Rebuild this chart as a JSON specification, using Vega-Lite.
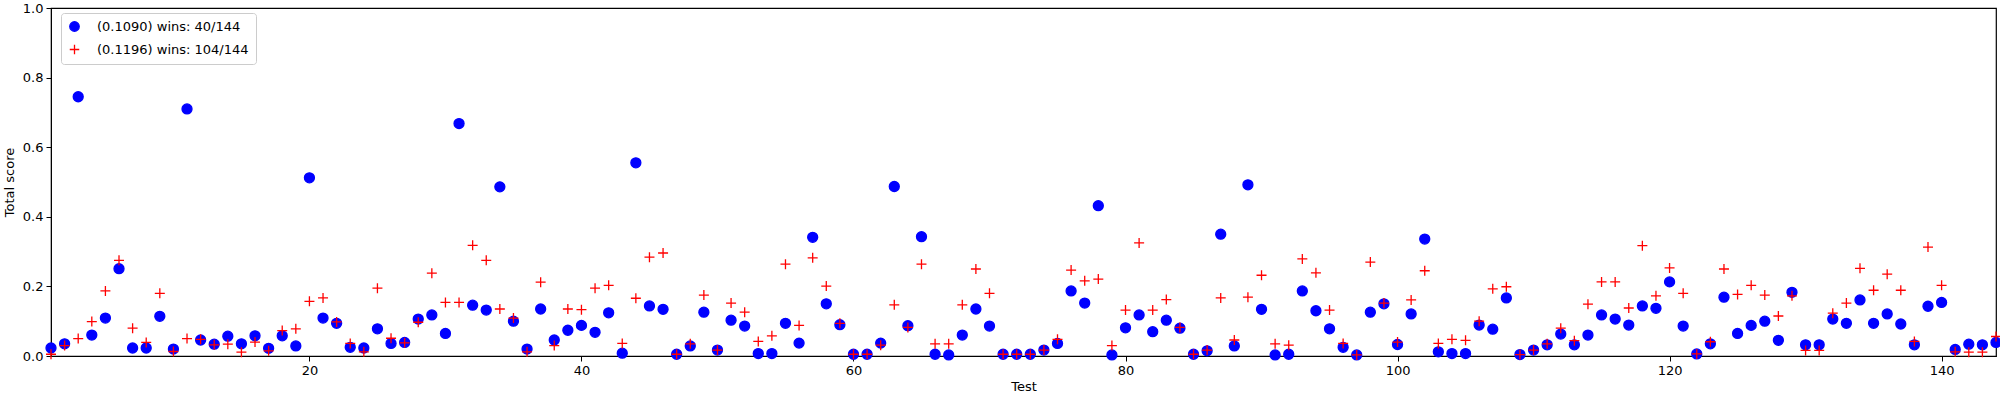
{
  "$schema": "https://vega.github.io/schema/vega-lite/v6.json",
  "autosize": "none",
  "width": 1945,
  "height": 348,
  "padding": {"left": 51, "top": 8, "right": 4, "bottom": 44},
  "background": "white",
  "data": {
    "values": [
      {"test": 1, "a": 0.023, "b": 0.005}, {"test": 2, "a": 0.035, "b": 0.03}, {"test": 3, "a": 0.745, "b": 0.05},
      {"test": 4, "a": 0.06, "b": 0.099}, {"test": 5, "a": 0.109, "b": 0.187}, {"test": 6, "a": 0.251, "b": 0.275},
      {"test": 7, "a": 0.023, "b": 0.08}, {"test": 8, "a": 0.023, "b": 0.039}, {"test": 9, "a": 0.114, "b": 0.18},
      {"test": 10, "a": 0.02, "b": 0.013}, {"test": 11, "a": 0.71, "b": 0.05}, {"test": 12, "a": 0.046, "b": 0.048},
      {"test": 13, "a": 0.034, "b": 0.032}, {"test": 14, "a": 0.057, "b": 0.034}, {"test": 15, "a": 0.035, "b": 0.011},
      {"test": 16, "a": 0.058, "b": 0.04}, {"test": 17, "a": 0.022, "b": 0.015}, {"test": 18, "a": 0.058, "b": 0.073},
      {"test": 19, "a": 0.029, "b": 0.078}, {"test": 20, "a": 0.512, "b": 0.157}, {"test": 21, "a": 0.109, "b": 0.167},
      {"test": 22, "a": 0.094, "b": 0.098}, {"test": 23, "a": 0.025, "b": 0.036}, {"test": 24, "a": 0.023, "b": 0.012},
      {"test": 25, "a": 0.078, "b": 0.195}, {"test": 26, "a": 0.036, "b": 0.051}, {"test": 27, "a": 0.039, "b": 0.038},
      {"test": 28, "a": 0.106, "b": 0.097}, {"test": 29, "a": 0.118, "b": 0.238}, {"test": 30, "a": 0.065, "b": 0.154},
      {"test": 31, "a": 0.668, "b": 0.154}, {"test": 32, "a": 0.146, "b": 0.318}, {"test": 33, "a": 0.132, "b": 0.275},
      {"test": 34, "a": 0.486, "b": 0.135}, {"test": 35, "a": 0.1, "b": 0.109}, {"test": 36, "a": 0.02, "b": 0.012},
      {"test": 37, "a": 0.135, "b": 0.212}, {"test": 38, "a": 0.046, "b": 0.03}, {"test": 39, "a": 0.074, "b": 0.135},
      {"test": 40, "a": 0.088, "b": 0.133}, {"test": 41, "a": 0.068, "b": 0.195}, {"test": 42, "a": 0.124, "b": 0.203},
      {"test": 43, "a": 0.008, "b": 0.036}, {"test": 44, "a": 0.555, "b": 0.166}, {"test": 45, "a": 0.144, "b": 0.284},
      {"test": 46, "a": 0.134, "b": 0.296}, {"test": 47, "a": 0.005, "b": 0.005}, {"test": 48, "a": 0.029, "b": 0.035},
      {"test": 49, "a": 0.126, "b": 0.175}, {"test": 50, "a": 0.017, "b": 0.017}, {"test": 51, "a": 0.103, "b": 0.152},
      {"test": 52, "a": 0.086, "b": 0.126}, {"test": 53, "a": 0.007, "b": 0.042}, {"test": 54, "a": 0.007, "b": 0.058},
      {"test": 55, "a": 0.094, "b": 0.264}, {"test": 56, "a": 0.037, "b": 0.088}, {"test": 57, "a": 0.341, "b": 0.282},
      {"test": 58, "a": 0.15, "b": 0.201}, {"test": 59, "a": 0.09, "b": 0.094}, {"test": 60, "a": 0.005, "b": 0.005},
      {"test": 61, "a": 0.005, "b": 0.005}, {"test": 62, "a": 0.037, "b": 0.031}, {"test": 63, "a": 0.487, "b": 0.147},
      {"test": 64, "a": 0.087, "b": 0.082}, {"test": 65, "a": 0.343, "b": 0.264}, {"test": 66, "a": 0.005, "b": 0.035},
      {"test": 67, "a": 0.003, "b": 0.035}, {"test": 68, "a": 0.06, "b": 0.147}, {"test": 69, "a": 0.135, "b": 0.25},
      {"test": 70, "a": 0.086, "b": 0.18}, {"test": 71, "a": 0.005, "b": 0.005}, {"test": 72, "a": 0.005, "b": 0.005},
      {"test": 73, "a": 0.005, "b": 0.005}, {"test": 74, "a": 0.017, "b": 0.017}, {"test": 75, "a": 0.036, "b": 0.048},
      {"test": 76, "a": 0.187, "b": 0.247}, {"test": 77, "a": 0.152, "b": 0.216}, {"test": 78, "a": 0.432, "b": 0.221},
      {"test": 79, "a": 0.003, "b": 0.03}, {"test": 80, "a": 0.081, "b": 0.132}, {"test": 81, "a": 0.118, "b": 0.325},
      {"test": 82, "a": 0.07, "b": 0.132}, {"test": 83, "a": 0.103, "b": 0.162}, {"test": 84, "a": 0.08, "b": 0.082},
      {"test": 85, "a": 0.005, "b": 0.005}, {"test": 86, "a": 0.015, "b": 0.017}, {"test": 87, "a": 0.35, "b": 0.167},
      {"test": 88, "a": 0.029, "b": 0.046}, {"test": 89, "a": 0.492, "b": 0.169}, {"test": 90, "a": 0.134, "b": 0.232},
      {"test": 91, "a": 0.003, "b": 0.035}, {"test": 92, "a": 0.005, "b": 0.031}, {"test": 93, "a": 0.187, "b": 0.279},
      {"test": 94, "a": 0.13, "b": 0.239}, {"test": 95, "a": 0.078, "b": 0.132}, {"test": 96, "a": 0.025, "b": 0.036},
      {"test": 97, "a": 0.003, "b": 0.003}, {"test": 98, "a": 0.126, "b": 0.27}, {"test": 99, "a": 0.15, "b": 0.152},
      {"test": 100, "a": 0.033, "b": 0.04}, {"test": 101, "a": 0.121, "b": 0.161}, {"test": 102, "a": 0.336, "b": 0.245},
      {"test": 103, "a": 0.012, "b": 0.036}, {"test": 104, "a": 0.007, "b": 0.048}, {"test": 105, "a": 0.007, "b": 0.045},
      {"test": 106, "a": 0.089, "b": 0.1}, {"test": 107, "a": 0.077, "b": 0.193}, {"test": 108, "a": 0.167, "b": 0.199},
      {"test": 109, "a": 0.004, "b": 0.004}, {"test": 110, "a": 0.017, "b": 0.017}, {"test": 111, "a": 0.032, "b": 0.035},
      {"test": 112, "a": 0.063, "b": 0.08}, {"test": 113, "a": 0.032, "b": 0.044}, {"test": 114, "a": 0.06, "b": 0.149},
      {"test": 115, "a": 0.118, "b": 0.213}, {"test": 116, "a": 0.106, "b": 0.213}, {"test": 117, "a": 0.089, "b": 0.138},
      {"test": 118, "a": 0.144, "b": 0.317}, {"test": 119, "a": 0.137, "b": 0.173}, {"test": 120, "a": 0.213, "b": 0.253},
      {"test": 121, "a": 0.086, "b": 0.18}, {"test": 122, "a": 0.006, "b": 0.006}, {"test": 123, "a": 0.035, "b": 0.041},
      {"test": 124, "a": 0.169, "b": 0.25}, {"test": 125, "a": 0.065, "b": 0.177}, {"test": 126, "a": 0.088, "b": 0.203},
      {"test": 127, "a": 0.1, "b": 0.175}, {"test": 128, "a": 0.045, "b": 0.115}, {"test": 129, "a": 0.183, "b": 0.173},
      {"test": 130, "a": 0.032, "b": 0.016}, {"test": 131, "a": 0.032, "b": 0.016}, {"test": 132, "a": 0.106, "b": 0.123},
      {"test": 133, "a": 0.094, "b": 0.152}, {"test": 134, "a": 0.161, "b": 0.252}, {"test": 135, "a": 0.094, "b": 0.189},
      {"test": 136, "a": 0.121, "b": 0.235}, {"test": 137, "a": 0.092, "b": 0.189}, {"test": 138, "a": 0.032, "b": 0.042},
      {"test": 139, "a": 0.143, "b": 0.313}, {"test": 140, "a": 0.154, "b": 0.203}, {"test": 141, "a": 0.019, "b": 0.012},
      {"test": 142, "a": 0.034, "b": 0.011}, {"test": 143, "a": 0.032, "b": 0.011}, {"test": 144, "a": 0.039, "b": 0.056}
    ]
  },
  "transform": [
    {"fold": ["a", "b"], "as": ["key", "score"]},
    {"calculate": "datum.key == 'a' ? '(0.1090) wins: 40/144' : '(0.1196) wins: 104/144'", "as": "series"}
  ],
  "encoding": {
    "x": {
      "field": "test", "type": "quantitative", "title": "Test",
      "scale": {"domain": [1, 144], "nice": false, "zero": false},
      "axis": {"values": [20, 40, 60, 80, 100, 120, 140], "grid": false, "domainColor": "black", "tickColor": "black", "labelColor": "black", "titleColor": "black", "labelFont": "DejaVu Sans", "titleFont": "DejaVu Sans", "labelFontSize": 13, "titleFontSize": 13, "titleFontWeight": "normal", "tickSize": 5, "labelPadding": 3, "titlePadding": 3}
    },
    "y": {
      "field": "score", "type": "quantitative", "title": "Total score",
      "scale": {"domain": [0, 1], "nice": false},
      "axis": {"values": [0, 0.2, 0.4, 0.6, 0.8, 1.0], "format": ".1f", "grid": false, "domainColor": "black", "tickColor": "black", "labelColor": "black", "titleColor": "black", "labelFont": "DejaVu Sans", "titleFont": "DejaVu Sans", "labelFontSize": 13, "titleFontSize": 13, "titleFontWeight": "normal", "tickSize": 5, "labelPadding": 3, "titlePadding": 6}
    },
    "shape": {
      "field": "series", "type": "nominal", "title": null,
      "scale": {"domain": ["(0.1090) wins: 40/144", "(0.1196) wins: 104/144"], "range": ["circle", "M-1,0H1M0,-1V1"]}
    },
    "fill": {
      "field": "series", "type": "nominal", "title": null,
      "scale": {"domain": ["(0.1090) wins: 40/144", "(0.1196) wins: 104/144"], "range": ["#0000ff", "transparent"]}
    },
    "stroke": {
      "field": "series", "type": "nominal", "title": null,
      "scale": {"domain": ["(0.1090) wins: 40/144", "(0.1196) wins: 104/144"], "range": ["#0000ff", "#ff0000"]},
      "legend": {"orient": "none", "legendX": 10, "legendY": 5, "padding": 7, "rowPadding": 8, "strokeColor": "#cccccc", "fillColor": "white", "cornerRadius": 3, "labelFont": "DejaVu Sans", "labelFontSize": 13, "labelColor": "black", "symbolSize": 90, "symbolStrokeWidth": 1.3, "labelOffset": 16, "offset": 0}
    }
  },
  "mark": {"type": "point", "size": 100, "strokeWidth": 1.3, "opacity": 1},
  "config": {"view": {"stroke": "black", "strokeWidth": 1.2}}
}
